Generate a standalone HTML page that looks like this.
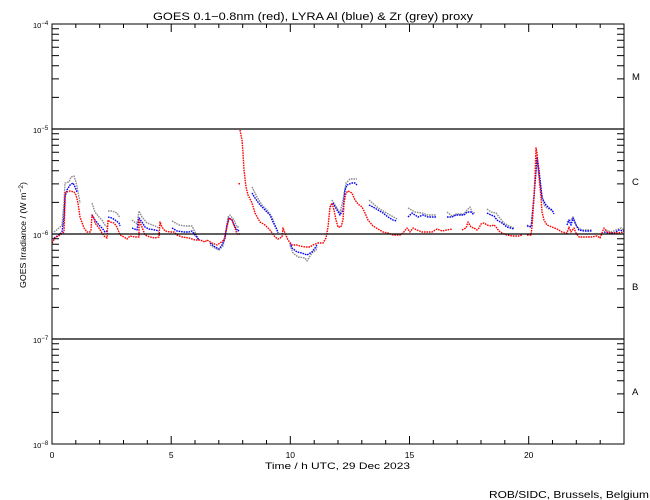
<!DOCTYPE html>
<html><head><meta charset="utf-8"><style>
html,body{margin:0;padding:0;background:#fff;}
svg{display:block;}
text{font-family:"Liberation Sans",sans-serif;fill:#000;}
</style></head><body>
<svg width="650" height="500" viewBox="0 0 650 500" xmlns="http://www.w3.org/2000/svg">
<rect width="650" height="500" fill="#fff"/>
<text x="153" y="20" font-size="11" textLength="320" lengthAdjust="spacingAndGlyphs">GOES 0.1−0.8nm (red), LYRA Al (blue) &amp; Zr (grey) proxy</text>

<!-- data: grey -->
<g fill="none" stroke="#8c8c8c" stroke-width="1.4" stroke-linejoin="round" stroke-dasharray="1.6 0.9">
<polyline points="54,232 59,228 62,225 64,203 65,183 69,182 71,177 74,176 76,182 79,197 80,203"/>
<polyline points="92,203 95,212 99,217 102,220 105,225 107,227"/>
<polyline points="108,211 112,211 117,213 120,218"/>
<polyline points="132,220 137,224 139,211 142,217 147,223 155,226 159,228"/>
<polyline points="172,221 179,225 185,226 192,226 195,232 199,240"/>
<polyline points="210,245 215,248 219,250 223,246 225,237 228,217 230,215 234,220 237,227 239,227"/>
<polyline points="252,187 257,197 262,205 267,210 272,217 275,225 278,232"/>
<polyline points="290,245 293,253 298,257 305,258 307,261 312,253 316,250 317,247"/>
<polyline points="332,200 333,202 337,208 340,213 343,200 346,183 350,179 357,179"/>
<polyline points="369,200 377,207 383,211 390,215 397,219"/>
<polyline points="408,208 415,212 422,213 428,215 431,215 436,215"/>
<polyline points="447,212 452,216 456,214 464,214 467,210 470,207 472,212 475,213"/>
<polyline points="487,209 491,212 496,213 499,217 504,223 509,226 514,228"/>
<polyline points="527,225 531,227 536,173 537,160 541,190 544,205 547,208 551,210 554,212"/>
<polyline points="567,222 571,220 573,217 577,227 582,230 592,230"/>
<polyline points="606,230 611,232 616,230 621,228 624,230"/>
</g>
<!-- data: blue -->
<g fill="none" stroke="#0000ff" stroke-width="1.4" stroke-linejoin="round" stroke-dasharray="1.6 0.9">
<polyline points="54,238 59,235 62,232 64,217 65,197 67,190 70,185 73,183 75,187 77,192"/>
<polyline points="92,215 95,220 99,225 102,228 105,232 107,231"/>
<polyline points="108,217 112,218 115,220 119,223 120,226"/>
<polyline points="132,228 137,230 139,218 142,222 145,227 149,229 155,230 159,231"/>
<polyline points="172,228 177,231 184,232 189,232 192,231 195,235 199,240"/>
<polyline points="210,243 215,247 219,249 222,245 225,238 227,225 229,218 232,220 235,227 238,231 239,230"/>
<polyline points="252,193 255,198 260,205 265,210 270,215 273,222 277,230 278,233"/>
<polyline points="290,243 292,248 297,252 302,253 307,255 312,252 315,248 317,245"/>
<polyline points="330,207 333,203 337,210 340,215 343,210 345,190 347,185 352,183 355,183 357,185"/>
<polyline points="369,205 373,207 378,210 383,213 388,217 393,220 397,221"/>
<polyline points="408,217 412,213 415,215 418,217 423,215 428,217 429,217 436,217"/>
<polyline points="447,217 452,217 456,215 464,215 467,212 471,212 474,215"/>
<polyline points="487,213 491,215 494,216 497,220 502,223 507,227 514,229"/>
<polyline points="527,226 531,227 532,220 534,197 536,170 537,157 539,170 541,188 542,198 546,205 549,208 552,210 554,214"/>
<polyline points="567,225 569,220 571,225 573,218 576,225 579,230 584,231 591,231 592,232"/>
<polyline points="604,232 609,233 614,233 619,230 624,231"/>
</g>
<!-- data: red -->
<g fill="none" stroke="#ff0000" stroke-width="1.4" stroke-linejoin="round" stroke-dasharray="1.6 0.9">
<polyline points="52,243 55,238 60,235 64,232 65,203 65,193 67,192 70,191 74,192 76,195 78,203 80,217 84,228 87,232 90,232 91,230 92,215 94,218 95,223 99,228 102,233 105,237 107,238 108,220 110,222 114,223 117,227 120,235 124,237 127,239 130,236 135,237 139,237 139,220 142,227 145,235 150,237 155,238 159,237 160,222 162,227 165,231 170,232 174,232 177,235 182,237 189,238 195,240 200,240 205,242 207,240 212,243 217,245 220,243 224,240 225,235 227,227 229,218 232,220 235,228 237,234 240,234"/>
<polyline points="240,130 242,140 243,153 244,170 246,187 248,195 252,203 255,213 260,222 265,225 270,230 275,237 278,239 282,237 283,228 285,233 288,240 292,245 297,245 300,246 305,247 310,247 313,245 318,243 323,243 326,238 328,227 330,207 332,203 334,210 336,220 338,227 341,227 343,220 344,203 346,193 348,191 352,193 355,200 358,204 362,207 365,213 368,220 373,226 378,229 383,232 388,233 393,235 400,235 403,233 407,228 410,232 413,228 417,230 422,232 428,232 432,232 437,229 442,231 447,230 452,229"/>
<polyline points="462,230 466,228 468,222 471,227 474,228 477,230 479,228 481,224 484,223 487,225 491,226 494,225 496,227 499,231 502,233 507,235 512,236 519,236 522,235"/>
<polyline points="527,235 531,235 532,227 534,197 535,177 536,148 537,153 539,177 541,197 542,212 544,220 547,225 552,227 557,229 562,232 567,233 569,227 571,232 574,228 576,233 579,237 584,237 591,237 597,236 600,238 604,228 607,232 612,233 617,233 624,232"/>
<rect x="238.5" y="183" width="1.5" height="1.5" fill="#ff0000" stroke="none"/>
</g>

<!-- grid lines -->
<g stroke="#000" stroke-width="1.2">
<line x1="52" y1="129" x2="624" y2="129"/>
<line x1="52" y1="234" x2="624" y2="234"/>
<line x1="52" y1="339" x2="624" y2="339"/>
</g>
<!-- axes box -->
<rect x="52" y="24" width="572" height="420" fill="none" stroke="#000" stroke-width="1"/>

<!-- y ticks -->
<g stroke="#000" stroke-width="1">
<path d="M52,24h8M52,129h8M52,234h8M52,339h8M52,444h8
M52,97.4h7M52,78.9h7M52,65.8h7M52,55.6h7M52,47.3h7M52,40.3h7M52,34.2h7M52,28.8h7
M52,202.4h7M52,183.9h7M52,170.8h7M52,160.6h7M52,152.3h7M52,145.3h7M52,139.2h7M52,133.8h7
M52,307.4h7M52,288.9h7M52,275.8h7M52,265.6h7M52,257.3h7M52,250.3h7M52,244.2h7M52,238.8h7
M52,412.4h7M52,393.9h7M52,380.8h7M52,370.6h7M52,362.3h7M52,355.3h7M52,349.2h7M52,343.8h7"/>
<path d="M624,24h-8M624,129h-8M624,234h-8M624,339h-8M624,444h-8
M624,97.4h-7M624,78.9h-7M624,65.8h-7M624,55.6h-7M624,47.3h-7M624,40.3h-7M624,34.2h-7M624,28.8h-7
M624,202.4h-7M624,183.9h-7M624,170.8h-7M624,160.6h-7M624,152.3h-7M624,145.3h-7M624,139.2h-7M624,133.8h-7
M624,307.4h-7M624,288.9h-7M624,275.8h-7M624,265.6h-7M624,257.3h-7M624,250.3h-7M624,244.2h-7M624,238.8h-7
M624,412.4h-7M624,393.9h-7M624,380.8h-7M624,370.6h-7M624,362.3h-7M624,355.3h-7M624,349.2h-7M624,343.8h-7"/>
<!-- x ticks bottom -->
<path d="M52,444v-8M75.8,444v-4M99.7,444v-4M123.5,444v-4M147.3,444v-4M171.2,444v-8M195,444v-4M218.8,444v-4M242.7,444v-4M266.5,444v-4M290.3,444v-8M314.2,444v-4M338,444v-4M361.8,444v-4M385.7,444v-4M409.5,444v-8M433.3,444v-4M457.2,444v-4M481,444v-4M504.8,444v-4M528.7,444v-8M552.5,444v-4M576.3,444v-4M600.2,444v-4M624,444v-8"/>
<!-- x ticks top -->
<path d="M52,24v8M75.8,24v4M99.7,24v4M123.5,24v4M147.3,24v4M171.2,24v8M195,24v4M218.8,24v4M242.7,24v4M266.5,24v4M290.3,24v8M314.2,24v4M338,24v4M361.8,24v4M385.7,24v4M409.5,24v8M433.3,24v4M457.2,24v4M481,24v4M504.8,24v4M528.7,24v8M552.5,24v4M576.3,24v4M600.2,24v4M624,24v8"/>
</g>

<!-- y tick labels -->
<g font-size="7.5">
<text x="33" y="28">10<tspan dy="-3" font-size="6">−4</tspan></text>
<text x="33" y="133">10<tspan dy="-3" font-size="6">−5</tspan></text>
<text x="33" y="238">10<tspan dy="-3" font-size="6">−6</tspan></text>
<text x="33" y="343">10<tspan dy="-3" font-size="6">−7</tspan></text>
<text x="33" y="448">10<tspan dy="-3" font-size="6">−8</tspan></text>
</g>
<!-- x tick labels -->
<g font-size="8.5" text-anchor="middle">
<text x="52" y="458">0</text>
<text x="171.2" y="458">5</text>
<text x="290.3" y="458">10</text>
<text x="409.5" y="458">15</text>
<text x="528.7" y="458">20</text>
</g>
<!-- class labels -->
<g font-size="9.5">
<text x="632" y="80">M</text>
<text x="632" y="185">C</text>
<text x="632" y="290">B</text>
<text x="632" y="395">A</text>
</g>
<text x="265" y="469" font-size="9" textLength="145" lengthAdjust="spacingAndGlyphs">Time / h UTC, 29 Dec 2023</text>
<text transform="translate(26,288) rotate(-90)" font-size="8.5" textLength="106" lengthAdjust="spacingAndGlyphs">GOES Irradiance / (W m<tspan dy="-3" font-size="6.5">−2</tspan><tspan dy="3">)</tspan></text>
<text x="489" y="498" font-size="10.5" textLength="160" lengthAdjust="spacingAndGlyphs">ROB/SIDC, Brussels, Belgium</text>
</svg>
</body></html>
